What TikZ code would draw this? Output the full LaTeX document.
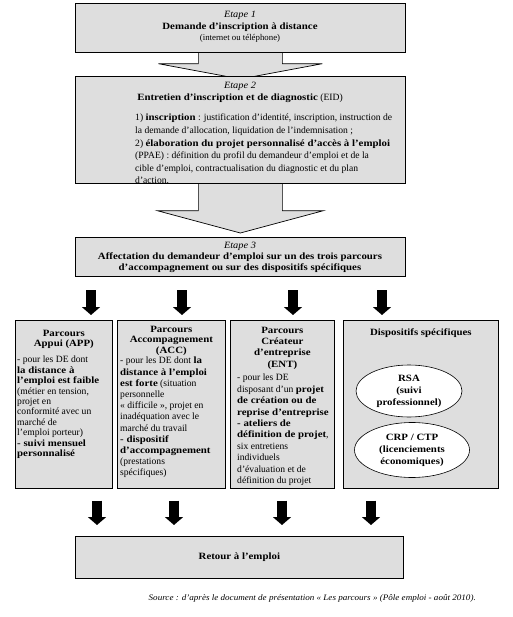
\documentclass[tikz,border=0pt]{standalone}
\usepackage{fontspec}
\setmainfont{Liberation Serif}[BoldFeatures={FakeStretch=1.13}, ItalicFeatures={FakeStretch=1.08}]
\usetikzlibrary{positioning,calc,shapes.geometric,arrows.meta,shadows,backgrounds}

\definecolor{boxgray}{gray}{0.87}

\tikzset{
  box/.style={draw, line width=0.7pt, fill=boxgray, anchor=north west, inner sep=0pt,
    drop shadow={shadow xshift=1pt, shadow yshift=-1pt, fill=black, opacity=0.8}},
  txt/.style={inner sep=0pt, font=\fontsize{9.6}{10.6}\selectfont},
  oval/.style={ellipse, draw, fill=white, line width=0.6pt, inner sep=0pt, align=center,
    font=\fontsize{9.6}{12}\selectfont\bfseries},
  bigarrow/.style={draw, line width=0.7pt, fill=boxgray},
  blackarrow/.style={line width=10pt, -{Triangle[width=18pt,length=8pt]}}
}

\begin{document}
\begin{tikzpicture}[x=1pt, y=-1pt]
\useasboundingbox (0,0) rectangle (512,617);

% etapes
\node [box, minimum width=330pt, minimum height=49pt] (etape1) at (75,3) {};
\node [txt, anchor=north, align=center, font=\fontsize{9.6}{11.5}\selectfont] (etape1txt) at (240,11)
  {\textit{Etape 1}\\ \textbf{Demande d’inscription à distance}\\ {\fontsize{8.8}{10}\selectfont(internet ou téléphone)}};

\node [box, minimum width=330pt, minimum height=107pt] (etape2) at (75,76) {};
\node [txt, anchor=north, align=center, font=\fontsize{9.6}{12}\selectfont] (etape2head) at (240,82)
  {\textit{Etape 2}\\ \textbf{Entretien d’inscription et de diagnostic} (EID)};
\node [txt, anchor=north west, align=left, font=\fontsize{9.6}{12.6}\selectfont] (etape2body) at (135,114)
  {1) \textbf{inscription} : justification d’identité, inscription, instruction de\\
   la demande d’allocation, liquidation de l’indemnisation ;\\
   2) \textbf{élaboration du projet personnalisé d’accès à l’emploi}\\
   (PPAE) : définition du profil du demandeur d’emploi et de la\\
   cible d’emploi, contractualisation du diagnostic et du plan\\
   d’action.};

\node [box, minimum width=330pt, minimum height=39pt] (etape3) at (75,237) {};
\node [txt, anchor=north, align=center, font=\fontsize{9.6}{11}\selectfont] (etape3txt) at (240,242)
  {\textit{Etape 3}\\ \textbf{Affectation du demandeur d’emploi sur un des trois parcours}\\
   \textbf{d’accompagnement ou sur des dispositifs spécifiques}};

% big arrows between the etapes
\begin{scope}[on background layer]
\draw [bigarrow] ($(etape1.south)+(-42,0)$) -- ++(0,11) -- ++(-40,0) -- ($(etape2.north)+(0,3)$)
  -- ($(etape1.south)+(82,11)$) -- ++(-40,0) -- ++(0,-11);
\draw [bigarrow] ($(etape2.south)+(-42,0)$) -- ++(0,27) -- ++(-41,0) -- ($(etape3.north)+(0,-4)$)
  -- ($(etape2.south)+(83,27)$) -- ++(-41,0) -- ++(0,-27);
\end{scope}

% parcours
\node [box, minimum width=97pt, minimum height=168pt] (colA) at (15,320) {};
\node [box, minimum width=108pt, minimum height=168pt] (colB) at (117,320) {};
\node [box, minimum width=104pt, minimum height=168pt] (colC) at (230,320) {};
\node [box, minimum width=155pt, minimum height=168pt] (colD) at (343,320) {};

\node [txt, anchor=north, align=center, font=\fontsize{9.6}{10}\selectfont\bfseries] (colAhead) at (colA.north |- 0,330)
  {Parcours\\ Appui (APP)};
\node [txt, anchor=north west, align=left, font=\fontsize{9.6}{10.4}\selectfont] (colAbody) at (17,356)
  {- pour les DE dont\\ \textbf{la distance à}\\ \textbf{l’emploi est faible}\\ (métier en tension,\\
   projet en\\ conformité avec un\\ marché de\\ l’emploi porteur)\\ \textbf{- suivi mensuel}\\
   \textbf{personnalisé}};

\node [txt, anchor=north, align=center, font=\fontsize{9.6}{10.4}\selectfont\bfseries] (colBhead) at (colB.north |- 0,326)
  {Parcours\\ Accompagnement\\ (ACC)};
\node [txt, anchor=north west, align=left, font=\fontsize{9.6}{11.2}\selectfont] (colBbody) at (120,357)
  {- pour les DE dont \textbf{la}\\ \textbf{distance à l’emploi}\\ \textbf{est forte} (situation\\ personnelle\\
   « difficile », projet en\\ inadéquation avec le\\ marché du travail\\ \textbf{- dispositif}\\
   \textbf{d’accompagnement}\\ (prestations\\ spécifiques)};

\node [txt, anchor=north, align=center, font=\fontsize{9.6}{11.2}\selectfont\bfseries] (colChead) at (colC.north |- 0,327)
  {Parcours\\ Créateur\\ d’entreprise\\ (ENT)};
\node [txt, anchor=north west, align=left, font=\fontsize{9.6}{11.4}\selectfont] (colCbody) at (237,374)
  {- pour les DE\\ disposant d’un \textbf{projet}\\ \textbf{de création ou de}\\ \textbf{reprise d’entreprise}\\
   \textbf{- ateliers de}\\ \textbf{définition de projet},\\ six entretiens\\ individuels\\
   d’évaluation et de\\ définition du projet};

\node [txt, anchor=north, font=\fontsize{9.6}{10.6}\selectfont\bfseries] (colDhead) at (colD.north |- 0,329)
  {Dispositifs spécifiques};
\node [oval, minimum width=106pt, minimum height=52pt] (rsa) at (409,391)
  {RSA\\ (suivi\\ professionnel)};
\node [oval, minimum width=115pt, minimum height=55pt] (crp) at (412,450)
  {CRP / CTP\\ (licenciements\\ économiques)};

% retour
\node [box, minimum width=328pt, minimum height=42pt] (retour) at (75,536) {};
\node [txt, font=\fontsize{9.6}{10.6}\selectfont\bfseries] (retourtxt) at (retour.center) {Retour à l’emploi};

% black arrows
\foreach \n/\x in {A/91,B/182,C/293,D/382}{
  \coordinate (in\n) at (\x,290);
  \draw [blackarrow, shorten >=5pt] (in\n) -- (in\n |- col\n.north);
}
\foreach \n/\x in {A/97,B/174,C/282,D/371}{
  \coordinate (out\n) at (\x,0);
  \draw [blackarrow, shorten <=12pt, shorten >=11pt] (out\n |- col\n.south) -- (out\n |- retour.north);
}

\node [txt, anchor=east, font=\fontsize{8.4}{9}\selectfont\itshape] (source) at (476,598)
  {Source : d’après le document de présentation « Les parcours » (Pôle emploi - août 2010).};
\end{tikzpicture}
\end{document}
